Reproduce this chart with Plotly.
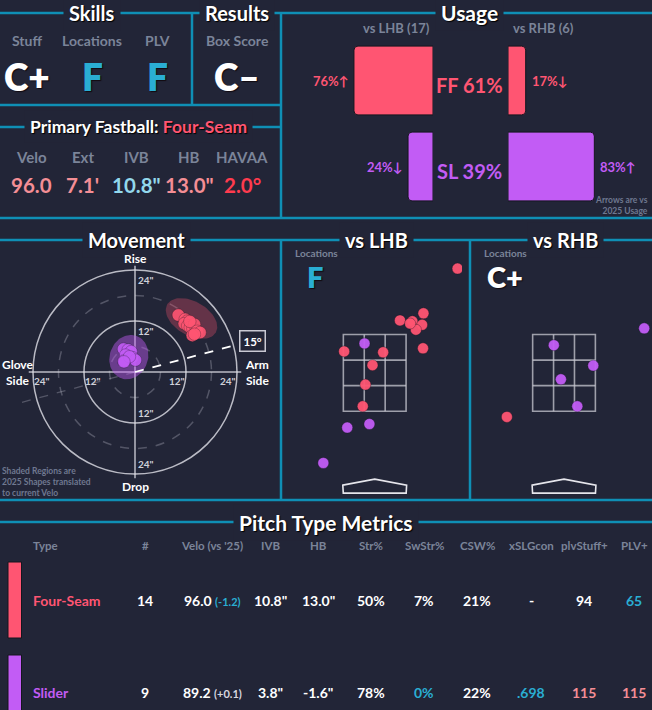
import numpy as np
import plotly.graph_objects as go

W, H = 652, 710
BG = "#222537"
LINE = "#0f8fb5"
FF_C = "#ff5572"
SL_C = "#c25cf5"
CYAN = "#2aaed3"
GRAY = "#7b8499"
SALMON = "#f48e95"
FONT = "Lato"

# ---------------- data ----------------
skill_labels = ["Stuff", "Locations", "PLV"]
skill_grades = ["C+", "F", "F"]
result_label = "Box Score"
result_grade = "C–"

fb_labels = ["Velo", "Ext", "IVB", "HB", "HAVAA"]
fb_values = ["96.0", "7.1'", '10.8"', '13.0"', "2.0°"]

usage_pitches = ["FF", "SL"]
usage_total = [61, 39]
usage_lhb = [76, 24]
usage_rhb = [17, 83]
arrow_lhb = ["↑", "↓"]
arrow_rhb = ["↓", "↑"]
n_lhb, n_rhb = 17, 6

# movement (inches)
ff_hb = [10.2, 11.8, 12.3, 12.8, 11.6, 12.4, 13.0, 13.6, 14.0, 12.9, 14.6, 15.3, 13.5, 14.0]
ff_ivb = [13.4, 12.4, 12.0, 11.6, 11.4, 10.9, 10.5, 10.2, 11.2, 11.9, 9.6, 9.3, 8.6, 8.9]
sl_hb = [-2.7, -1.6, -0.9, -2.2, -0.6, -2.6, 0.1, -1.3, -2.6]
sl_ivb = [5.4, 5.2, 4.8, 4.0, 3.4, 2.6, 2.8, 3.6, 2.4]
arm_angle = 15
# 2025 shapes: center hb, center ivb, semi-axis a, semi-axis b, tilt (deg)
ff_shape = [13.3, 12.6, 6.6, 4.0, -30]
sl_shape = [-1.45, 3.5, 5.3, 4.5, 70]

# locations (feet, catcher view)
lhb_ff_x = [1.87, 1.10, 0.57, 0.85, 1.07, 0.93, 0.80, 1.09, -0.69, 0.19, -0.05, -0.21, -0.27]
lhb_ff_z = [4.82, 3.81, 3.65, 3.63, 3.55, 3.44, 3.58, 3.02, 2.95, 2.93, 2.64, 2.20, 1.71]
lhb_sl_x = [-0.23, -0.12, -0.62, -1.16]
lhb_sl_z = [3.13, 1.31, 1.23, 0.43]
rhb_ff_x = [-1.29]
rhb_ff_z = [1.47]
rhb_sl_x = [-0.23, 0.66, -0.07, 0.30, 1.81]
rhb_sl_z = [3.09, 2.63, 2.32, 1.71, 3.47]
loc_grade_lhb = "F"
loc_grade_rhb = "C+"

# pitch type metrics
col_names = ["Type", "#", "Velo (vs '25)", "IVB", "HB", "Str%", "SwStr%", "CSW%",
             "xSLGcon", "plvStuff+", "PLV+"]
pitch_names = ["Four-Seam", "Slider"]
counts = [14, 9]
velo = [96.0, 89.2]
velo_diff = [-1.2, 0.1]
ivb = [10.8, 3.8]
hb = [13.0, -1.6]
str_pct = [50, 78]
swstr_pct = [7, 0]
csw_pct = [21, 22]
xslgcon = [None, 0.698]
plv_stuff = [94, 115]
plv_plus = [65, 115]

# ---------------- helpers ----------------
def px(x):
    return x / W


def py(y):
    return 1 - y / H


ann = []
shapes = []


def txt(x, y, s, size, color="white", weight=700, xanchor="center", yanchor="middle", **kw):
    ann.append(dict(xref="paper", yref="paper", x=px(x), y=py(y), text=s, showarrow=False,
                    font=dict(family=FONT, size=size, color=color, weight=weight,
                              shadow=kw.pop("shadow", "none")),
                    xanchor=xanchor, yanchor=yanchor, **kw))


def title(x, y, s, size=20):
    txt(x, y, s, size, bgcolor=BG, borderpad=5, shadow="1px 1px 1px #000")


def hline(x0, x1, y):
    shapes.append(dict(type="line", xref="paper", yref="paper", x0=px(x0), x1=px(x1),
                       y0=py(y), y1=py(y), line=dict(color=LINE, width=2.5)))


def vline(x, y0, y1):
    shapes.append(dict(type="line", xref="paper", yref="paper", x0=px(x), x1=px(x),
                       y0=py(y0), y1=py(y1), line=dict(color=LINE, width=2.5)))


fig = go.Figure()

# ---------------- frame lines ----------------
hline(0, W, 13)
vline(192, 13, 105)
hline(0, 281, 105)
hline(0, 281, 127)
vline(281, 13, 218)
hline(0, W, 218)
hline(0, W, 240)
vline(281, 240, 500)
vline(470, 240, 500)
hline(0, W, 500)
hline(0, W, 522)

# ---------------- skills / results ----------------
title(92, 13, "Skills")
title(237, 13, "Results")
grade_cols = {"F": CYAN}
for x, lab, g in zip([27, 92, 157], skill_labels, skill_grades):
    txt(x, 40, lab, 14, GRAY)
    txt(x, 77, g, 37, grade_cols.get(g, "white"), weight=800, shadow="1px 1px 1px #120a10")
txt(237, 40, result_label, 14, GRAY)
txt(237, 77, result_grade, 37, "white", weight=800, shadow="1px 1px 1px #120a10")

title(138, 127, "Primary Fastball: <span style='color:%s'>Four-Seam</span>" % FF_C, 17.5)
fb_colors = [SALMON, SALMON, "#92d8ec", SALMON, "#ff3b4e"]
for x, lab, v, c in zip([31, 83, 136, 189, 242], fb_labels, fb_values, fb_colors):
    txt(x, 157, lab, 15, GRAY)
    txt(x, 185, v, 20.5, c)

# ---------------- usage ----------------
title(470, 13, "Usage", 21)
txt(396, 28, "vs LHB (%d)" % n_lhb, 13, GRAY)
txt(543, 28, "vs RHB (%d)" % n_rhb, 13, GRAY)
pcols = [FF_C, SL_C]
fig.add_trace(go.Bar(x=usage_lhb, y=[0, 1], orientation="h", width=0.8,
                     marker=dict(color=pcols, line=dict(color="#15161f", width=1)),
                     xaxis="x4", yaxis="y4", hoverinfo="skip"))
fig.add_trace(go.Bar(x=usage_rhb, y=[0, 1], orientation="h", width=0.8,
                     marker=dict(color=pcols, line=dict(color="#15161f", width=1)),
                     xaxis="x5", yaxis="y5", hoverinfo="skip"))
for i in range(2):
    ann.append(dict(xref="x4", yref="y4", x=usage_lhb[i], y=i, xanchor="right", xshift=-4,
                    text="%d%%%s" % (usage_lhb[i], arrow_lhb[i]), showarrow=False,
                    font=dict(family=FONT, size=13, color=pcols[i], weight=700)))
    ann.append(dict(xref="x5", yref="y5", x=usage_rhb[i], y=i, xanchor="left", xshift=4,
                    text="%d%%%s" % (usage_rhb[i], arrow_rhb[i]), showarrow=False,
                    font=dict(family=FONT, size=13, color=pcols[i], weight=700)))
    ann.append(dict(xref="paper", yref="y4", x=px(470), y=i, yshift=-4, xanchor="center",
                    text="%s %d%%" % (usage_pitches[i], usage_total[i]), showarrow=False,
                    font=dict(family=FONT, size=20, color=pcols[i], weight=700)))
txt(650, 205, "Arrows are vs<br>2025 Usage", 8.5, "#6f7890", xanchor="right", align="right")

# ---------------- movement ----------------
title(136, 240, "Movement")
ring = "rgba(225,225,232,0.8)"
faint = "rgba(200,200,212,0.3)"
for r, dash in [(6, "dash"), (12, "solid"), (18, "dash"), (24, "solid")]:
    shapes.append(dict(type="circle", xref="x", yref="y", x0=-r, x1=r, y0=-r, y1=r,
                       line=dict(color=ring if dash == "solid" else faint, width=1.5, dash=dash),
                       layer="below"))
shapes.append(dict(type="line", xref="x", yref="y", x0=-25, x1=25, y0=0, y1=0,
                   line=dict(color=ring, width=1.5), layer="below"))
shapes.append(dict(type="line", xref="x", yref="y", x0=0, x1=0, y0=-25, y1=25,
                   line=dict(color=ring, width=1.5), layer="below"))
a = np.radians(arm_angle)
shapes.append(dict(type="line", xref="x", yref="y", x0=0, y0=0, x1=-28 * np.cos(a),
                   y1=-28 * np.sin(a), line=dict(color=faint, width=1.3, dash="dash"),
                   layer="below"))
shapes.append(dict(type="line", xref="x", yref="y", x0=0, y0=0, x1=24.5 * np.cos(a),
                   y1=24.5 * np.sin(a), line=dict(color="white", width=1.8, dash="dash")))
ann.append(dict(xref="paper", yref="paper", x=px(252), y=py(341), text="%d°" % arm_angle,
                showarrow=False, bgcolor=BG, bordercolor="#c9c9d3", borderwidth=1.5,
                borderpad=3, font=dict(family=FONT, size=11.5, color="white", weight=700)))

t = np.linspace(0, 2 * np.pi, 80)
for shp, fillc in [(ff_shape, "rgba(255,85,114,0.30)"), (sl_shape, "rgba(194,92,245,0.45)")]:
    cx, cy, sa, sb, ang = shp
    th = np.radians(ang)
    ex = cx + sa * np.cos(t) * np.cos(th) - sb * np.sin(t) * np.sin(th)
    ey = cy + sa * np.cos(t) * np.sin(th) + sb * np.sin(t) * np.cos(th)
    fig.add_trace(go.Scatter(x=ex, y=ey, mode="lines", fill="toself", fillcolor=fillc,
                             line=dict(width=0), xaxis="x", yaxis="y", hoverinfo="skip"))
for xs, ys, c in [(sl_hb, sl_ivb, SL_C), (ff_hb, ff_ivb, FF_C)]:
    fig.add_trace(go.Scatter(x=xs, y=ys, mode="markers", xaxis="x", yaxis="y",
                             marker=dict(size=12.5, color=c, opacity=0.9,
                                         line=dict(color="rgba(20,20,30,0.5)", width=0.6))))

tick_c = "#cfd0d8"
for v in [12, 24]:
    lab = '%d"' % v
    for sx in [-1, 1]:
        ann.append(dict(xref="x", yref="y", x=sx * (v - 2.2), y=-2.2, text=lab, showarrow=False,
                        font=dict(family=FONT, size=10, color=tick_c, weight=700)))
    for sy in [-1, 1]:
        ann.append(dict(xref="x", yref="y", x=2.5, y=sy * (v - 2.3), text=lab, showarrow=False,
                        font=dict(family=FONT, size=10, color=tick_c, weight=700)))
side_font = dict(family=FONT, size=12, color="white", weight=700)
for x, y, s in [(0, 26.6, "Rise"), (0, -27.0, "Drop"), (28.7, 0, "Arm<br>Side")]:
    ann.append(dict(xref="x", yref="y", x=x, y=y, text=s, showarrow=False, font=side_font))
ann.append(dict(xref="paper", yref="y", x=0, y=0, xanchor="left", text="Glove<br>Side",
                showarrow=False, font=side_font))
txt(0, 482, "Shaded Regions are<br>2025 Shapes translated<br>to current Velo", 8.5,
    "#6f7890", xanchor="left", align="left")

# ---------------- locations ----------------
title(376, 240, "vs LHB")
title(565, 240, "vs RHB")
zone_c = "rgba(200,200,210,0.75)"
for xa, ya in [("x2", "y2"), ("x3", "y3")]:
    shapes.append(dict(type="rect", xref=xa, yref=ya, x0=-0.708, x1=0.708, y0=1.6, y1=3.33,
                       line=dict(color=zone_c, width=1.6), layer="below"))
    for gx in [-0.236, 0.236]:
        shapes.append(dict(type="line", xref=xa, yref=ya, x0=gx, x1=gx, y0=1.6, y1=3.33,
                           line=dict(color=zone_c, width=1.6), layer="below"))
    for gz in [2.177, 2.753]:
        shapes.append(dict(type="line", xref=xa, yref=ya, x0=-0.708, x1=0.708, y0=gz, y1=gz,
                           line=dict(color=zone_c, width=1.6), layer="below"))
    shapes.append(dict(type="path", xref=xa, yref=ya,
                       path="M -0.72 -0.07 L 0 0.065 L 0.72 -0.07 L 0.71 -0.25 L -0.71 -0.25 Z",
                       line=dict(color="#e6e6ec", width=1.6)))
for xs, zs, c, xa, ya in [(lhb_ff_x, lhb_ff_z, FF_C, "x2", "y2"),
                          (lhb_sl_x, lhb_sl_z, SL_C, "x2", "y2"),
                          (rhb_ff_x, rhb_ff_z, FF_C, "x3", "y3"),
                          (rhb_sl_x, rhb_sl_z, SL_C, "x3", "y3")]:
    fig.add_trace(go.Scatter(x=xs, y=zs, mode="markers", xaxis=xa, yaxis=ya,
                             marker=dict(size=11, color=c, opacity=0.95,
                                         line=dict(color="rgba(20,20,30,0.6)", width=0.6))))
txt(292.5, 253, "Locations", 10, GRAY, xanchor="left")
txt(315, 277, loc_grade_lhb, 29, grade_cols.get(loc_grade_lhb, "white"), weight=800,
    shadow="1px 1px 1px #120a10")
txt(482, 253, "Locations", 10, GRAY, xanchor="left")
txt(505, 277, loc_grade_rhb, 29, grade_cols.get(loc_grade_rhb, "white"), weight=800,
    shadow="1px 1px 1px #120a10")

# ---------------- pitch type metrics ----------------
title(326, 522, "Pitch Type Metrics", 21)
col_x = [31, 145, 212, 270, 318, 371, 424, 477, 531, 584, 634]
for i, (x, c) in enumerate(zip(col_x, col_names)):
    txt(x, 545, c, 11.5, GRAY, weight=700, xanchor="left" if i == 0 else "center")

highlight = {(0, 10): CYAN, (1, 6): CYAN, (1, 8): CYAN, (1, 9): SALMON, (1, 10): SALMON}
diff_cols = [CYAN, "#d8d8e0"]
row_y = [600, 692]
row_bar = [(562, 638), (655, 716)]
for r in range(2):
    y = row_y[r]
    shapes.append(dict(type="rect", xref="paper", yref="paper", x0=px(8), x1=px(21.5),
                       y0=py(row_bar[r][1]), y1=py(row_bar[r][0]), fillcolor=pcols[r],
                       line=dict(color="#15161f", width=1)))
    xs = "-" if xslgcon[r] is None else ("%.3f" % xslgcon[r]).lstrip("0")
    cells = [pitch_names[r], str(counts[r]),
             "%.1f <span style='font-size:11px;color:%s'>(%+.1f)</span>" % (velo[r], diff_cols[r], velo_diff[r]),
             '%.1f"' % ivb[r], '%.1f"' % hb[r], "%d%%" % str_pct[r], "%d%%" % swstr_pct[r],
             "%d%%" % csw_pct[r], xs, str(plv_stuff[r]), str(plv_plus[r])]
    for i, (x, s) in enumerate(zip(col_x, cells)):
        color = pcols[r] if i == 0 else highlight.get((r, i), "white")
        txt(x, y, s, 14, color, xanchor="left" if i == 0 else "center")

# ---------------- layout ----------------
hidden = dict(visible=False, showgrid=False, zeroline=False, fixedrange=True)
fig.update_layout(
    width=W, height=H, autosize=False,
    margin=dict(l=0, r=0, t=0, b=0),
    paper_bgcolor=BG, plot_bgcolor=BG,
    showlegend=False, barcornerradius=4,
    xaxis=dict(hidden, domain=[px(3.25), px(266.75)], range=[-31, 31]),
    yaxis=dict(hidden, domain=[py(491), py(253)], range=[-28, 28]),
    xaxis2=dict(hidden, domain=[px(283), px(462)], range=[-2.07, 1.97]),
    yaxis2=dict(hidden, domain=[py(498), py(242)], range=[-0.36, 5.42], anchor="x2"),
    xaxis3=dict(hidden, domain=[px(472.3), px(651.3)], range=[-2.07, 1.97]),
    yaxis3=dict(hidden, domain=[py(498), py(242)], range=[-0.36, 5.42], anchor="x3"),
    xaxis4=dict(hidden, domain=[px(329), px(433)], range=[100, 0]),
    yaxis4=dict(hidden, domain=[py(209.5), py(37.5)], range=[1.5, -0.5], anchor="x4"),
    xaxis5=dict(hidden, domain=[px(508), px(612)], range=[0, 100]),
    yaxis5=dict(hidden, domain=[py(209.5), py(37.5)], range=[1.5, -0.5], anchor="x5"),
    shapes=shapes, annotations=ann,
)
fig.write_html("out.html", config={"displayModeBar": False},
               post_script="document.body.style.margin='0';document.body.style.background='%s';" % BG)
